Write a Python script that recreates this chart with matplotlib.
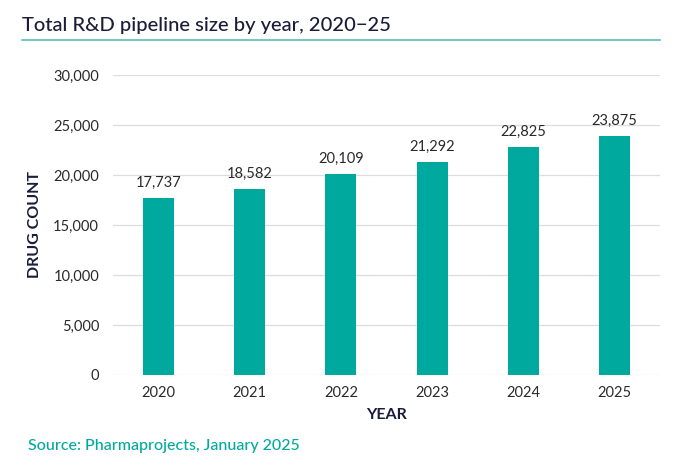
import matplotlib
matplotlib.use("Agg")
import matplotlib.pyplot as plt
from matplotlib.lines import Line2D
from matplotlib.ticker import FuncFormatter

years = ["2020", "2021", "2022", "2023", "2024", "2025"]
counts = [17737, 18582, 20109, 21292, 22825, 23875]
yticks = [0, 5000, 10000, 15000, 20000, 25000, 30000]

BAR = "#00A99D"
DARK = "#1B1C3A"
TICK = "#2a2a2a"

plt.rcParams['font.family'] = ['Lato', 'DejaVu Sans']

fig = plt.figure(figsize=(6.8, 4.75), dpi=100)
ax = fig.add_axes([113/680, 1-375/475, (660-113)/680, 300/475])

x = list(range(len(years)))
ax.bar(x, counts, width=0.34, color=BAR, zorder=3)
for xi, v in zip(x, counts):
    ax.text(xi, v + 800, f"{v:,}", ha="center", va="bottom", fontsize=10.5, color=TICK)

ax.set_xlim(-0.5, len(years) - 0.5)
ax.set_ylim(0, 30000)
ax.set_yticks(yticks)
ax.yaxis.set_major_formatter(FuncFormatter(lambda v, p: f"{int(v):,}"))
ax.set_xticks(x)
ax.set_xticklabels(years)
ax.tick_params(axis="both", length=0, labelsize=10.5, colors=TICK)
ax.tick_params(axis="y", pad=10)
ax.tick_params(axis="x", pad=8)
ax.grid(axis="y", color="#dddddd", linewidth=0.9, zorder=0)
for s in ax.spines.values():
    s.set_visible(False)

ax.set_xlabel("YEAR", fontsize=11.5, fontweight="bold", color=DARK, labelpad=6)
ax.set_ylabel("DRUG COUNT", fontsize=11.5, fontweight="bold", color=DARK, labelpad=8)

fig.text(22/680, 1-25/475, "Total R&D pipeline size by year, 2020\u221225", fontsize=14.5,
         fontweight="medium", color=DARK, va="center", ha="left")
fig.add_artist(Line2D([22/680, 660/680], [1-40/475, 1-40/475], color="#5BBDB5",
                      linewidth=1.2, transform=fig.transFigure))
fig.text(28/680, 1-446/475, "Source: Pharmaprojects, January 2025", fontsize=11.5,
         fontweight="medium", color=BAR, va="center", ha="left")

fig.savefig("out.png", dpi=100, facecolor="white")
